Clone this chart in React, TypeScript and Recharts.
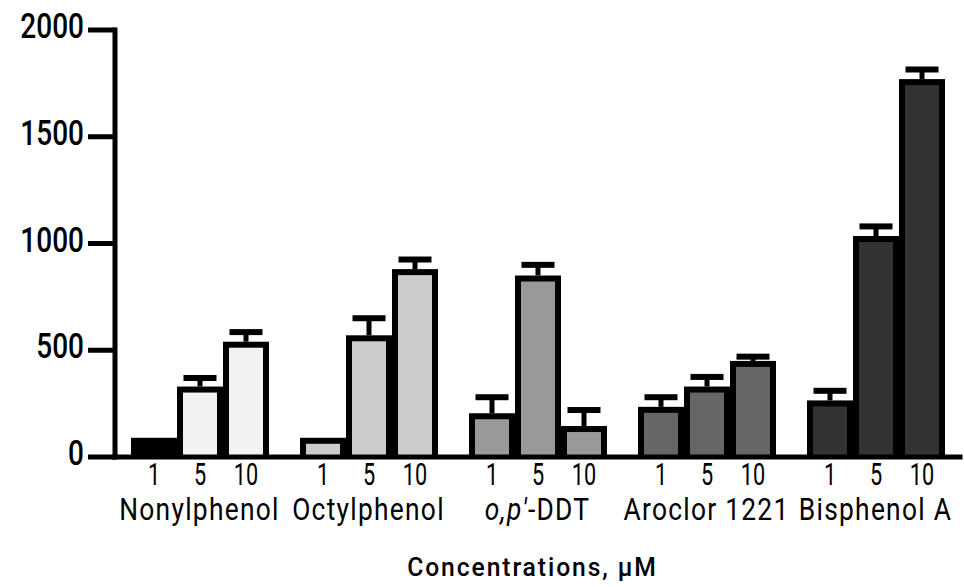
import React from 'react';
import { BarChart, Bar, XAxis, YAxis, Cell, LabelList, Label } from 'recharts';

const COMPOUNDS = ['Nonylphenol', 'Octylphenol', "o,p'-DDT", 'Aroclor 1221', 'Bisphenol A'];
const DOSES = ['1', '5', '10'];
const DOSE_1 = [90, 90, 205, 235, 265];
const DOSE_5 = [330, 570, 850, 330, 1035];
const DOSE_10 = [540, 880, 145, 450, 1770];
const ERR_1 = [0, 0, 75, 45, 45];
const ERR_5 = [40, 80, 50, 45, 45];
const ERR_10 = [45, 45, 75, 20, 45];
const Y_TICKS = [0, 500, 1000, 1500, 2000];

const FILLS = ['#f2f2f2', '#cccccc', '#999999', '#666666', '#333333'];
const FONT = 'Roboto, sans-serif';

const data = COMPOUNDS.map((name, i) => ({
  name,
  d1: DOSE_1[i],
  d5: DOSE_5[i],
  d10: DOSE_10[i],
  e1: ERR_1[i],
  e5: ERR_5[i],
  e10: ERR_10[i],
}));

// squeezed text, the original uses a tall narrow face
function NarrowText({ x, y, size, sx, anchor = 'middle', spacing = 0, weight = 400, children }: any) {
  return (
    <g transform={`translate(${x},${y}) scale(${sx},1)`}>
      <text
        x={0}
        y={0}
        textAnchor={anchor}
        fontSize={size}
        fontFamily={FONT}
        fontWeight={weight}
        fill="#000"
        letterSpacing={spacing}
      >
        {children}
      </text>
    </g>
  );
}

// thick black box with inset fill, plus a T cap for the error
function BoxBar(props: any) {
  const { x, y, width, height, fill, payload, valueKey, errKey } = props;
  const v = payload[valueKey];
  const err = payload[errKey];
  const k = v ? height / v : 0;
  const e = err * k;
  const cx = x + width / 2;
  const b = 6;
  return (
    <g>
      {e > 0 && <rect x={cx - 2.5} y={y - e} width={5} height={e} fill="#000" />}
      {e > 0 && <rect x={cx - 16.5} y={y - e - 3} width={33} height={6} fill="#000" />}
      <rect x={x} y={y} width={width} height={height} fill="#000" />
      <rect
        x={x + b}
        y={y + b}
        width={Math.max(0, width - 2 * b)}
        height={Math.max(0, height - b)}
        fill={fill}
      />
    </g>
  );
}

function YTick({ x, y, payload }: any) {
  return (
    <NarrowText x={x} y={y + 8} size={35} sx={0.8} anchor="end" weight={500}>
      {payload.value}
    </NarrowText>
  );
}

function CatTick({ x, y, payload }: any) {
  const name: string = payload.value;
  if (name.startsWith("o,p'")) {
    return (
      <g transform={`translate(${x},${y + 55}) scale(0.85,1)`}>
        <text x={0} y={0} textAnchor="middle" fontSize={31} fontFamily={FONT} fill="#000" letterSpacing={1.5}>
          <tspan fontStyle="italic">o,p′</tspan>
          <tspan>{name.slice(4)}</tspan>
        </text>
      </g>
    );
  }
  return (
    <NarrowText x={x} y={y + 55} size={31} sx={0.85} spacing={1.5}>
      {name}
    </NarrowText>
  );
}

function doseLabel(text: string) {
  return (p: any) => (
    <NarrowText x={p.x + p.width / 2} y={p.y + p.height + 28} size={31} sx={0.7}>
      {text}
    </NarrowText>
  );
}

function TitleLabel({ viewBox }: any) {
  return (
    <NarrowText
      x={viewBox.x + viewBox.width / 2 - 5}
      y={viewBox.y + viewBox.height - 1}
      size={26}
      sx={0.95}
      spacing={2}
      weight={500}
    >
      Concentrations, µM
    </NarrowText>
  );
}

const SERIES = [
  { key: 'd1', err: 'e1' },
  { key: 'd5', err: 'e5' },
  { key: 'd10', err: 'e10' },
];

export default function App() {
  return (
    <div>
      <style>{'body{margin:0}'}</style>
      <BarChart
        width={964}
        height={587}
        data={data}
        margin={{ top: 30, right: 4, bottom: 10, left: 0 }}
        barGap={0}
        barCategoryGap={16}
      >
        <XAxis
          dataKey="name"
          interval={0}
          height={120}
          tickLine={false}
          axisLine={{ stroke: '#000', strokeWidth: 5, strokeLinecap: 'square' }}
          tick={<CatTick />}
        >
          <Label content={<TitleLabel />} />
        </XAxis>
        <YAxis
          type="number"
          domain={[0, 2000]}
          ticks={Y_TICKS}
          interval={0}
          width={115}
          tickSize={27}
          tickMargin={4}
          axisLine={{ stroke: '#000', strokeWidth: 5, strokeLinecap: 'square' }}
          tickLine={{ stroke: '#000', strokeWidth: 5 }}
          tick={<YTick />}
        />
        {SERIES.map((s, si) => (
          <Bar
            key={s.key}
            dataKey={s.key}
            isAnimationActive={false}
            shape={(p: any) => <BoxBar {...p} valueKey={s.key} errKey={s.err} />}
          >
            {data.map((_, i) => (
              <Cell key={i} fill={si === 0 && i === 0 ? '#000' : FILLS[i]} />
            ))}
            <LabelList dataKey={s.key} content={doseLabel(DOSES[si])} />
          </Bar>
        ))}
      </BarChart>
    </div>
  );
}
